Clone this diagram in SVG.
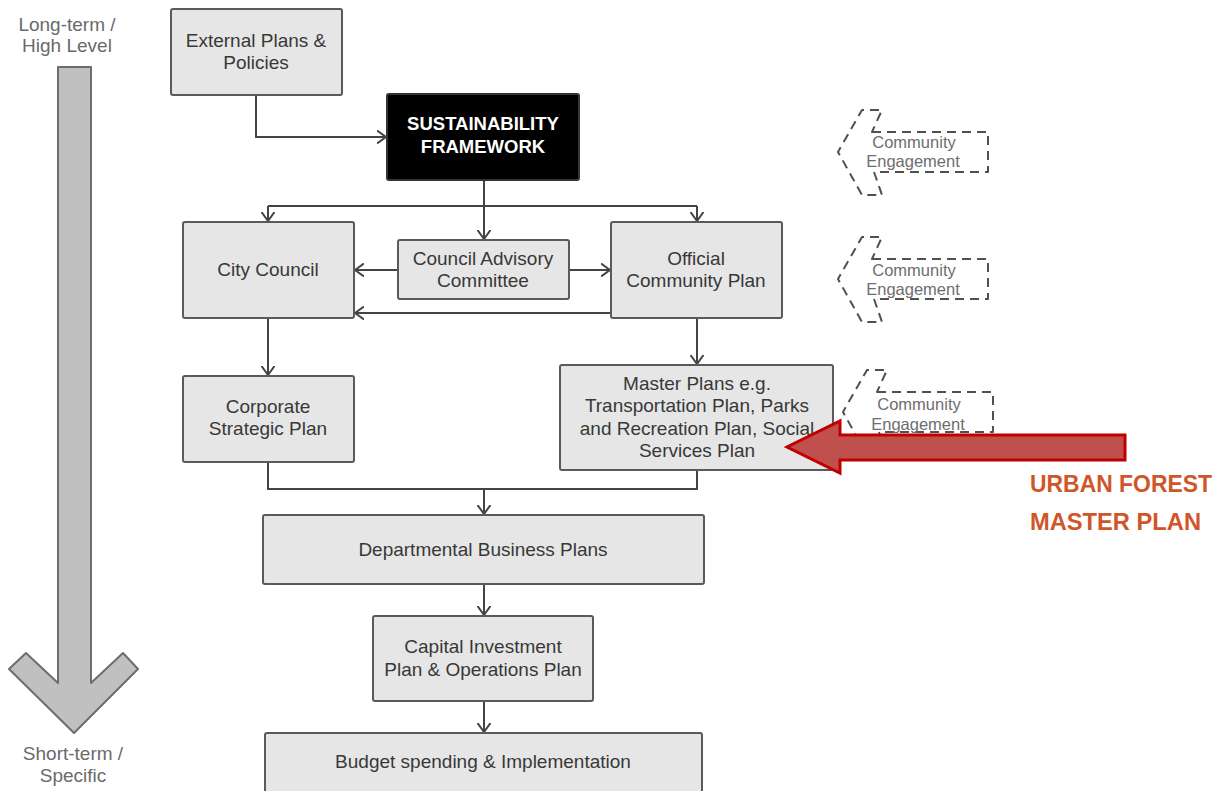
<svg xmlns="http://www.w3.org/2000/svg" width="1220" height="791" viewBox="0 0 1220 791">
  <defs>
    <style>
      .box { fill: #e6e6e6; stroke: #5a5a5a; stroke-width: 2; }
      .dark { fill: #000000; stroke: #333333; stroke-width: 2; }
      .t { font-family: "Liberation Sans", Arial, sans-serif; font-size: 19px; fill: #383838; text-anchor: middle; }
      .tb { font-family: "Liberation Sans", Arial, sans-serif; font-size: 18.5px; font-weight: bold; fill: #ffffff; text-anchor: middle; }
      .side { font-family: "Liberation Sans", Arial, sans-serif; font-size: 19px; fill: #6a6a6a; text-anchor: middle; }
      .ce { font-family: "Liberation Sans", Arial, sans-serif; font-size: 16.5px; fill: #6e6e6e; text-anchor: middle; }
      .dash { fill: none; stroke: #505050; stroke-width: 2; stroke-dasharray: 9 6; stroke-linejoin: round; }
      .conn { fill: none; stroke: #444444; stroke-width: 2; }
      .arr { marker-end: url(#ah); }
      .ufmp { font-family: "Liberation Sans", Arial, sans-serif; font-size: 23px; font-weight: bold; fill: #d0562a; }
    </style>
    <marker id="ah" viewBox="0 0 10 14" refX="9" refY="7" markerWidth="10" markerHeight="14" markerUnits="userSpaceOnUse" orient="auto">
      <path d="M0,0.5 L9,7 L0,13.5" fill="none" stroke="#444444" stroke-width="2"/>
    </marker>
    <path id="cepath" d="M872,132 H988 V172 H874 L882,195 H862 L838,152 L862,110 H882 Z"/>
  </defs>

  <rect width="1220" height="791" fill="#ffffff"/>

  <!-- Long-term / short-term arrow -->
  <g id="timeline">
    <text class="side" x="67" y="31">Long-term /</text>
    <text class="side" x="67" y="52">High Level</text>
    <polygon points="58,67 91,67 91,683 123,653 138,669 74,733 9,669 26,653 58,683" fill="#c0c0c0" stroke="#6d6d6d" stroke-width="2" stroke-linejoin="round"/>
    <text class="side" x="73" y="760">Short-term /</text>
    <text class="side" x="73" y="782">Specific</text>
  </g>

  <!-- Connectors -->
  <g id="connectors">
    <polyline class="conn arr" points="256,95 256,137 386,137"/>
    <line class="conn arr" x1="484" y1="180" x2="484" y2="239"/>
    <polyline class="conn" points="268,206 697,206"/>
    <line class="conn arr" x1="268" y1="206" x2="268" y2="221"/>
    <line class="conn arr" x1="697" y1="206" x2="697" y2="221"/>
    <line class="conn arr" x1="398" y1="270" x2="355" y2="270"/>
    <line class="conn arr" x1="569" y1="270" x2="610" y2="270"/>
    <line class="conn arr" x1="611" y1="313" x2="355" y2="313"/>
    <line class="conn arr" x1="268" y1="318" x2="268" y2="375"/>
    <line class="conn arr" x1="697" y1="318" x2="697" y2="364"/>
    <polyline class="conn" points="268,462 268,489 697,489 697,470"/>
    <line class="conn arr" x1="484" y1="489" x2="484" y2="514"/>
    <line class="conn arr" x1="484" y1="584" x2="484" y2="615"/>
    <line class="conn arr" x1="484" y1="701" x2="484" y2="732"/>
  </g>

  <g id="external">
    <rect class="box" x="171" y="9" width="171" height="86" rx="2"/>
    <text class="t" x="256" y="47">External Plans &amp;</text>
    <text class="t" x="256" y="69">Policies</text>
  </g>

  <g id="sustainability">
    <rect class="dark" x="387" y="94" width="192" height="86" rx="2"/>
    <text class="tb" x="483" y="130">SUSTAINABILITY</text>
    <text class="tb" x="483" y="153">FRAMEWORK</text>
  </g>

  <g id="city-council">
    <rect class="box" x="183" y="222" width="171" height="96" rx="2"/>
    <text class="t" x="268" y="276">City Council</text>
  </g>

  <g id="advisory">
    <rect class="box" x="398" y="240" width="171" height="59" rx="2"/>
    <text class="t" x="483" y="265">Council Advisory</text>
    <text class="t" x="483" y="287">Committee</text>
  </g>

  <g id="ocp">
    <rect class="box" x="611" y="222" width="171" height="96" rx="2"/>
    <text class="t" x="696" y="265">Official</text>
    <text class="t" x="696" y="287">Community Plan</text>
  </g>

  <g id="corporate">
    <rect class="box" x="183" y="376" width="171" height="86" rx="2"/>
    <text class="t" x="268" y="413">Corporate</text>
    <text class="t" x="268" y="435">Strategic Plan</text>
  </g>

  <g id="master-plans">
    <rect class="box" x="560" y="365" width="273" height="105" rx="2"/>
    <text class="t" x="697" y="390">Master Plans e.g.</text>
    <text class="t" x="697" y="412">Transportation Plan, Parks</text>
    <text class="t" x="697" y="435">and Recreation Plan, Social</text>
    <text class="t" x="697" y="457">Services Plan</text>
  </g>

  <g id="departmental">
    <rect class="box" x="263" y="515" width="441" height="69" rx="2"/>
    <text class="t" x="483" y="556">Departmental Business Plans</text>
  </g>

  <g id="capital">
    <rect class="box" x="373" y="616" width="220" height="85" rx="2"/>
    <text class="t" x="483" y="653">Capital Investment</text>
    <text class="t" x="483" y="676">Plan &amp; Operations Plan</text>
  </g>

  <g id="budget">
    <rect class="box" x="265" y="733" width="437" height="66" rx="2"/>
    <text class="t" x="483" y="768">Budget spending &amp; Implementation</text>
  </g>

  <g id="community-engagement-1">
    <use href="#cepath" class="dash"/>
    <text class="ce" x="914" y="148">Community</text>
    <text class="ce" x="913" y="167">Engagement</text>
  </g>

  <g id="community-engagement-2" transform="translate(0,127)">
    <use href="#cepath" class="dash"/>
    <text class="ce" x="914" y="149">Community</text>
    <text class="ce" x="913" y="168">Engagement</text>
  </g>

  <g id="community-engagement-3" transform="translate(5,260)">
    <use href="#cepath" class="dash"/>
    <text class="ce" x="914" y="150">Community</text>
    <text class="ce" x="913" y="170">Engagement</text>
  </g>

  <g id="urban-forest">
    <polygon points="1125,435 840,435 840,421 787,447 840,473 840,460 1125,460" fill="#c0504d" stroke="#c00000" stroke-width="3" stroke-linejoin="miter"/>
    <text class="ufmp" x="1030" y="492" textLength="182" lengthAdjust="spacingAndGlyphs">URBAN FOREST</text>
    <text class="ufmp" x="1030" y="530" textLength="171" lengthAdjust="spacingAndGlyphs">MASTER PLAN</text>
  </g>
</svg>
